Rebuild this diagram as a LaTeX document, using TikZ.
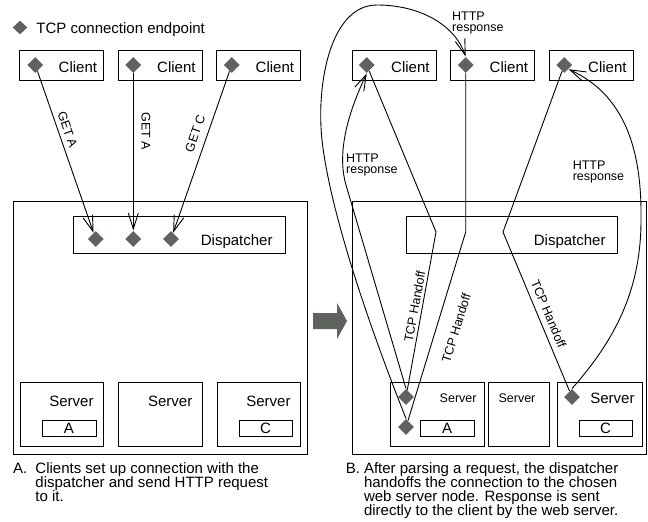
\documentclass[tikz,border=0pt]{standalone}
\usepackage{fontspec}
\setmainfont{Liberation Sans}
\usetikzlibrary{arrows.meta,shapes.geometric}
\definecolor{tipgray}{RGB}{94,99,94}

\begin{document}
\begin{tikzpicture}[x=1pt,y=-1pt,line width=0.9pt,
  rect/.style={draw,rectangle,inner sep=0pt,line width=1pt},
  ep/.style={diamond,fill=tipgray,inner sep=0pt,minimum size=16pt},
  big/.style={font=\fontsize{15}{18}\selectfont,inner sep=0pt},
  small/.style={font=\fontsize{12.5}{11}\selectfont,inner sep=0pt},
  msg/.style={-{Straight Barb[length=16pt,width=10pt]}},
  lbl/.style={small,sloped,inner sep=0pt}
]
\useasboundingbox (0,0) rectangle (648,522);

% legend
\node[ep,minimum width=15pt,minimum height=14pt] (legd) at (20,27.5) {};
\node[big,anchor=base west] (legt) at (36,33.5) {TCP connection endpoint};

% ---------------- left panel: requests reach the dispatcher ----------------
\node[rect,minimum width=84pt,minimum height=30pt] (lcb1) at (61.5,65) {};
\node[rect,minimum width=84pt,minimum height=30pt] (lcb2) at (160,65) {};
\node[rect,minimum width=84pt,minimum height=30pt] (lcb3) at (258.5,65) {};
\node[big,anchor=base east] (lct1) at (97.5,72) {Client};
\node[big,anchor=base east] (lct2) at (196,72) {Client};
\node[big,anchor=base east] (lct3) at (294.5,72) {Client};
\node[ep] (lc1) at (35.3,65) {};
\node[ep] (lc2) at (133.3,65) {};
\node[ep] (lc3) at (231.7,65) {};

\node[rect,minimum width=294pt,minimum height=253pt] (lout) at (160,327.5) {};
\node[rect,minimum width=212pt,minimum height=37pt] (ldisp) at (179,234.5) {};
\node[big,anchor=base east] (ldispt) at (273,245.5) {Dispatcher};
\node[ep] (ld1) at (95.7,239) {};
\node[ep] (ld2) at (133.3,239) {};
\node[ep] (ld3) at (171,239) {};

\node[rect,minimum width=83pt,minimum height=64pt] (ls1) at (61.5,414) {};
\node[rect,minimum width=84pt,minimum height=64pt] (ls2) at (160,414) {};
\node[rect,minimum width=83pt,minimum height=64pt] (ls3) at (258.5,414) {};
\node[big,anchor=base east] (lst1) at (94,406) {Server};
\node[big,anchor=base east] (lst2) at (192.7,406) {Server};
\node[big,anchor=base east] (lst3) at (291,406) {Server};
\node[rect,minimum width=54pt,minimum height=16pt] (lfa) at (69,428) {};
\node[big] (lfat) at (69,428.5) {A};
\node[rect,minimum width=53pt,minimum height=16pt] (lfc) at (265.5,428) {};
\node[big] (lfct) at (265.5,428.5) {C};

\draw[msg] (lc1) -- node[lbl,above=4.4pt,pos=.38] (lg1) {GET A} (ld1);
\draw[msg] (lc2) -- node[lbl,above=7.7pt,pos=.37] (lg2) {GET A} (ld2);
\draw[msg] (lc3) -- node[lbl,above=7pt,pos=.41] (lg3) {GET C} (ld3);

% step arrow between the two panels
\fill[tipgray] (313,313) -- (337,313) -- (337,303) -- (347,321)
  -- (337,339) -- (337,329) -- (313,329) -- cycle;

% ---------------- right panel: handoff and direct response ----------------
\node[rect,minimum width=84pt,minimum height=30pt] (rcb1) at (394,65) {};
\node[rect,minimum width=84pt,minimum height=30pt] (rcb2) at (492.5,65) {};
\node[rect,minimum width=84pt,minimum height=30pt] (rcb3) at (591,65) {};
\node[big,anchor=base east] (rct1) at (430,72) {Client};
\node[big,anchor=base east] (rct2) at (528.5,72) {Client};
\node[big,anchor=base east] (rct3) at (627,72) {Client};
\node[ep] (rc1) at (366.7,65) {};
\node[ep] (rc2) at (465.7,65) {};
\node[ep] (rc3) at (564.3,65) {};

\node[rect,minimum width=294.5pt,minimum height=253pt] (rout) at (499.25,327.5) {};
\node[rect,minimum width=211pt,minimum height=37pt] (rdisp) at (511.5,234.5) {};
\node[big,anchor=base east] (rdispt) at (606,245.5) {Dispatcher};

\node[rect,minimum width=94pt,minimum height=64pt] (rs1b) at (437,414) {};
\node[rect,minimum width=61pt,minimum height=64pt] (rs2b) at (518.5,414) {};
\node[rect,minimum width=85pt,minimum height=64pt] (rs3b) at (599.5,414) {};
\node[small,anchor=base east] (rst1) at (477,402.7) {Server};
\node[small,anchor=base] (rst2) at (517,402.7) {Server};
\node[big,anchor=base east] (rst3) at (635,403.5) {Server};
\node[rect,minimum width=54pt,minimum height=16pt] (rfa) at (447,428) {};
\node[big] (rfat) at (447,428.5) {A};
\node[rect,minimum width=53pt,minimum height=16pt] (rfc) at (605.5,428) {};
\node[big] (rfct) at (605.5,428.5) {C};
\node[ep] (rs1) at (406,397) {};
\node[ep] (rs2) at (406,427) {};
\node[ep] (rs3) at (572,397) {};

% bends of the handoff paths inside the dispatcher
\coordinate (hb1) at (436,232);
\coordinate (hb2) at (465.7,232);
\coordinate (hb3) at (503,232);

\draw (rc1) -- (hb1) -- node[lbl,above=2.7pt,pos=.48] (th1) {TCP Handoff} (rs1);
\draw (rc2) -- (hb2) -- node[lbl,below=14pt,pos=.48] (th2) {TCP Handoff} (rs2);
\draw (rc3) -- (hb3) -- node[lbl,above=5.6pt,pos=.54] (th3) {TCP Handoff} (rs3);

% responses go straight back to the clients
\draw[msg] (rs1.north) -- (346,185) .. controls (334.8,146.6) and (354,100.6) .. (rc1.south);
\draw[msg] (rs2.north) .. controls (355,290) and (328,195) .. (322,140)
  .. controls (316,85) and (330,5) .. (377,5)
  .. controls (420,5) and (455,25) .. (rc2.north);
\draw[msg] (rs3.north) .. controls (615,340) and (641,290) .. (641,220)
  .. controls (642,150) and (625,95) .. (rc3.south east);

\node[small,align=left,anchor=north west] (hr1) at (345.7,153.5) {HTTP\\response};
\node[small,align=left,anchor=north west] (hr2) at (451.7,11) {HTTP\\response};
\node[small,align=left,anchor=north west] (hr3) at (572.3,160.5) {HTTP\\response};

% captions
\node[big,anchor=base west] (capa) at (12.7,473.3) {A.};
\node[big,anchor=base west] (capat) at (35,473.3) {\parbox[t]{280pt}{\fontsize{15}{14.2}\selectfont\raggedright
  Clients set up connection with the\\dispatcher and send HTTP request\\to it.}};
\node[big,anchor=base west] (capb) at (345.5,473.3) {B.};
\node[big,anchor=base west] (capbt) at (363.6,473.3) {\parbox[t]{284pt}{\fontsize{15}{14.2}\selectfont\raggedright
  After parsing a request, the dispatcher\\handoffs the connection to the chosen\\web server node. Response is sent\\directly to the client by the web server.}};
\end{tikzpicture}
\end{document}
